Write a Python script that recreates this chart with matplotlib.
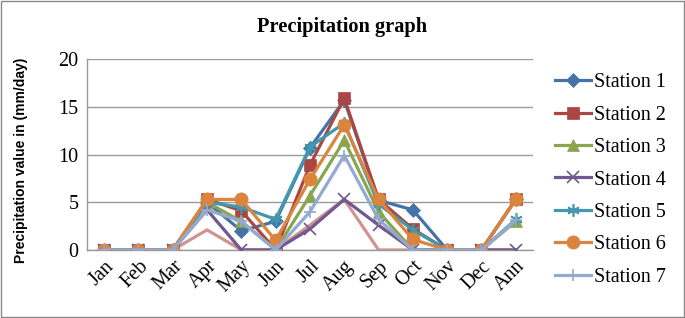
import matplotlib
matplotlib.use("Agg")
import matplotlib.pyplot as plt
from matplotlib.patches import Rectangle

months = ["Jan", "Feb", "Mar", "Apr", "May", "Jun", "Jul",
          "Aug", "Sep", "Oct", "Nov", "Dec", "Ann"]

station1 = [0, 0, 0, 5.0, 2.0, 3.0, 10.7, 15.7, 5.2, 4.2, 0, 0, 5.3]
station2 = [0, 0, 0, 5.3, 4.1, 0, 8.9, 15.9, 5.3, 2.2, 0, 0, 5.3]
station3 = [0, 0, 0, 5.0, 3.0, 0, 5.7, 11.5, 4.0, 0, 0, 0, 3.0]
station4 = [0, 0, 0, 4.2, 0, 0, 2.2, 5.3, 2.6, 0, 0, 0, 0]
station5 = [0, 0, 0, 5.0, 4.5, 3.2, 10.8, 13.3, 4.8, 2.1, 0, 0, 3.2]
station6 = [0, 0, 0, 5.3, 5.3, 1.0, 7.4, 13.1, 5.3, 1.1, 0, 0, 5.3]
station7 = [0, 0, 0, 4.2, 3.0, 0, 4.0, 9.9, 3.2, 0, 0, 0, 3.1]
station8 = [0, 0, 0, 2.1, 0, 0, 2.6, 5.3, 0, 0, 0, 0, 0]

series = [
    ("Station 1", station1, "#4572A7", "D", 7),
    ("Station 2", station2, "#AA4643", "s", 8.5),
    ("Station 3", station3, "#89A54E", "^", 8.5),
    ("Station 4", station4, "#71588F", "x", 8),
    ("Station 5", station5, "#4198AF", (6, 2, 0), 9),
    ("Station 6", station6, "#DB843D", "o", 9.5),
    ("Station 7", station7, "#93A9CF", "+", 9),
]

serif = "Liberation Serif"

fig = plt.figure(figsize=(6.85, 3.18), dpi=100)
ax = fig.add_axes([0.127, 0.214, 0.651, 0.600])

x = range(len(months))
# extra series with no marker, not in the legend
ax.plot(x, station8, color="#D19392", lw=2.3, zorder=2)
for name, vals, col, mk, ms in series:
    ax.plot(x, vals, color=col, lw=2.3, marker=mk, markersize=ms,
            markeredgewidth=1.2 if mk in ("x", "+", (6, 2, 0)) else 0.5,
            markeredgecolor=col, label=name, zorder=3)

ax.set_xlim(-0.5, len(months) - 0.5)
ax.set_ylim(0, 20)
ax.set_yticks([0, 5, 10, 15, 20])
ax.set_xticks(list(x))
ax.set_xticklabels(months, rotation=45, ha="right", rotation_mode="anchor",
                   fontfamily=serif, fontsize=14.5)
for lab in ax.get_yticklabels():
    lab.set_fontfamily(serif)
    lab.set_fontsize(14.5)
ax.tick_params(axis="both", length=0, pad=6)
ax.tick_params(axis="x", pad=5)

ax.grid(axis="y", color="#999999", lw=1)
ax.set_axisbelow(True)
for s in ["top", "right"]:
    ax.spines[s].set_visible(False)
for s in ["left", "bottom"]:
    ax.spines[s].set_color("#999999")
    ax.spines[s].set_linewidth(1)

ax.set_ylabel("Precipitation value in (mm/day)", fontfamily="Liberation Sans",
              fontweight="bold", fontsize=10)
ax.yaxis.set_label_coords(-0.132, 0.47)

fig.suptitle("Precipitation graph", fontfamily=serif, fontweight="bold",
             fontsize=14.7, x=0.5, y=0.945)

fig.legend(loc="upper left", bbox_to_anchor=(0.799, 0.795), frameon=False,
           prop={"family": serif, "size": 14.5}, handlelength=1.75,
           handletextpad=0.15, labelspacing=0.66, borderaxespad=0)

fig.patches.append(Rectangle((0.002, 0.003), 0.996, 0.994,
                             transform=fig.transFigure, fill=False,
                             edgecolor="#888888", lw=1))

fig.savefig("out.png", dpi=100)
